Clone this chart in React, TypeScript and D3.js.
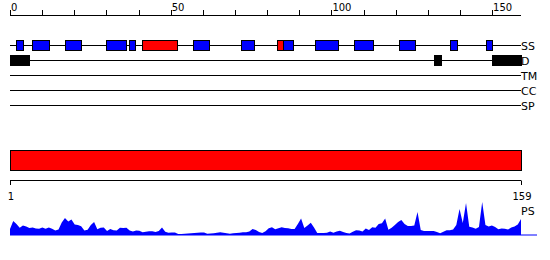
import React from "react";
import * as d3 from "d3";

const seqLength = 159;
const topTicks = [0, 10, 20, 30, 40, 50, 60, 70, 80, 90, 100, 110, 120, 130, 140, 150];
const topTickLabels = [0, 50, 100, 150];
const trackNames = ["SS", "D", "TM", "CC", "SP"];

// secondary structure elements: [start, end] residues
const helixStart = [42, 84];
const helixEnd = [52, 85];
const strandStart = [3, 8, 18, 31, 38, 58, 73, 86, 96, 108, 122, 138, 149];
const strandEnd = [4, 12, 22, 36, 39, 62, 76, 88, 102, 113, 126, 139, 150];
// disordered regions
const disoStart = [1, 133, 151];
const disoEnd = [6, 134, 159];
// domain bar
const domainStart = [1];
const domainEnd = [159];
const bottomTicks = [1, 159];

// PS profile per residue (1..159)
const psValues = [
  6, 14, 11, 7.3, 9.6, 8.4, 7, 7.5, 6.6, 6.3,
  7.6, 6.3, 7.4, 6.3, 4.4, 5.6, 12.5, 17, 13.6, 15.5,
  10.5, 10, 8.8, 4.6, 5.2, 10, 13, 5.7, 7.3, 7.6,
  4.1, 6.1, 4.8, 4.4, 7.3, 6.9, 7.2, 4.5, 3.4, 4.5,
  4.2, 2.7, 3.2, 3.8, 3.7, 3.1, 4, 7.4, 3.3, 2.3,
  2.5, 2.4, 1.1, 0.9, 1.2, 1.5, 1.8, 2.1, 2.3, 2.5,
  2.5, 1.3, 1.4, 1.8, 2.3, 2.7, 2.2, 1.7, 1.3, 1.7,
  2, 2.3, 2.7, 2.7, 3.5, 6.1, 5, 3.1, 2, 3.7,
  6.8, 7.8, 5.7, 6.7, 7.7, 7, 6.7, 5.9, 5.9, 11,
  16.5, 7, 9.4, 12.3, 7.5, 2, 2, 2, 2.2, 3.5,
  2.3, 3.5, 4.3, 3, 2, 1.4, 3.2, 4.7, 4.5, 3.6,
  6.6, 5.1, 7.7, 7.3, 10.9, 11.7, 16.5, 5.2, 7.3, 10,
  12.9, 15, 11.1, 9, 9, 9.5, 23, 5, 4.1, 4,
  4, 4, 3, 1.8, 3.3, 4.7, 4.7, 5.6, 10, 26,
  12, 32, 8.2, 7.5, 6.3, 8, 33, 10, 8.5, 9.6,
  8, 5.8, 6.4, 6.2, 5.5, 7.5, 8.5, 10.6, 16,
];

const FONT = "DejaVu Sans, sans-serif";

export default function App() {
  const x0 = 10;
  const x1 = 521;
  const xTop = d3.scaleLinear().domain([0, seqLength]).range([x0, x1]);
  const xRes = d3.scaleLinear().domain([1, seqLength]).range([x0, x1]);
  const trackY = d3.scalePoint<string>().domain(trackNames).range([45, 105]);
  const yPs = d3.scaleLinear().domain([0, 35]).range([235, 200]);

  const area = d3
    .area<number>()
    .x((_, i) => xRes(i + 1))
    .y0(yPs(0))
    .y1((d) => yPs(d));

  const boxH = 10;
  const ssY = trackY("SS")!;
  const dY = trackY("D")!;

  return (
    <svg width={550} height={260} style={{ position: "absolute", left: 0, top: 0 }}>
      <rect width={550} height={260} fill="white" />
      {/* top axis */}
      <line x1={x0} x2={x1} y1={15.5} y2={15.5} stroke="black" />
      {topTicks.map((t) => (
        <line key={t} x1={Math.round(xTop(t)) + 0.5} x2={Math.round(xTop(t)) + 0.5} y1={10} y2={15.5} stroke="black" />
      ))}
      {topTickLabels.map((t) => (
        <text key={t} x={xTop(t) + 1} y={10.5} fontSize={10} fontFamily={FONT} fill="black">
          {t}
        </text>
      ))}
      {/* track lines */}
      {trackNames.map((n) => (
        <g key={n}>
          <line x1={x0} x2={x1} y1={trackY(n)! + 0.5} y2={trackY(n)! + 0.5} stroke="black" />
          <text x={x1} y={trackY(n)! + 5} fontSize={11} fontFamily={FONT} fill="black">
            {n}
          </text>
        </g>
      ))}
      {/* SS strands */}
      {strandStart.map((s, i) => (
        <rect
          key={"s" + i}
          x={Math.round(xTop(s - 1)) + 0.5}
          y={ssY - boxH / 2 + 0.5}
          width={Math.round(xTop(strandEnd[i])) - Math.round(xTop(s - 1))}
          height={boxH}
          fill="#0000ff"
          stroke="black"
        />
      ))}
      {helixStart.map((s, i) => (
        <rect
          key={"h" + i}
          x={Math.round(xTop(s - 1)) + 0.5}
          y={ssY - boxH / 2 + 0.5}
          width={Math.round(xTop(helixEnd[i])) - Math.round(xTop(s - 1))}
          height={boxH}
          fill="#ff0000"
          stroke="black"
        />
      ))}
      {disoStart.map((s, i) => (
        <rect
          key={"d" + i}
          x={Math.round(xTop(s - 1)) + 0.5}
          y={dY - boxH / 2 + 0.5}
          width={Math.round(xTop(disoEnd[i])) - Math.round(xTop(s - 1))}
          height={boxH}
          fill="black"
          stroke="black"
        />
      ))}
      {/* domain bar */}
      {domainStart.map((s, i) => (
        <rect
          key={"dom" + i}
          x={xRes(s) + 0.5}
          y={150.5}
          width={xRes(domainEnd[i]) - xRes(s)}
          height={20}
          fill="#ff0000"
          stroke="black"
        />
      ))}
      {/* bottom axis */}
      <line x1={x0} x2={x1} y1={180.5} y2={180.5} stroke="black" />
      {bottomTicks.map((t) => (
        <g key={t}>
          <line x1={xRes(t) + 0.5} x2={xRes(t) + 0.5} y1={180.5} y2={185} stroke="black" />
          <text x={xRes(t) + 1} y={200} fontSize={10} fontFamily={FONT} textAnchor="middle" fill="black">
            {t}
          </text>
        </g>
      ))}
      {/* PS profile */}
      <path d={area(psValues) || ""} fill="#0000ff" />
      <line x1={x0} x2={537} y1={235} y2={235} stroke="#0000ff" />
      <text x={x1} y={215} fontSize={11} fontFamily={FONT} fill="black">
        PS
      </text>
    </svg>
  );
}
